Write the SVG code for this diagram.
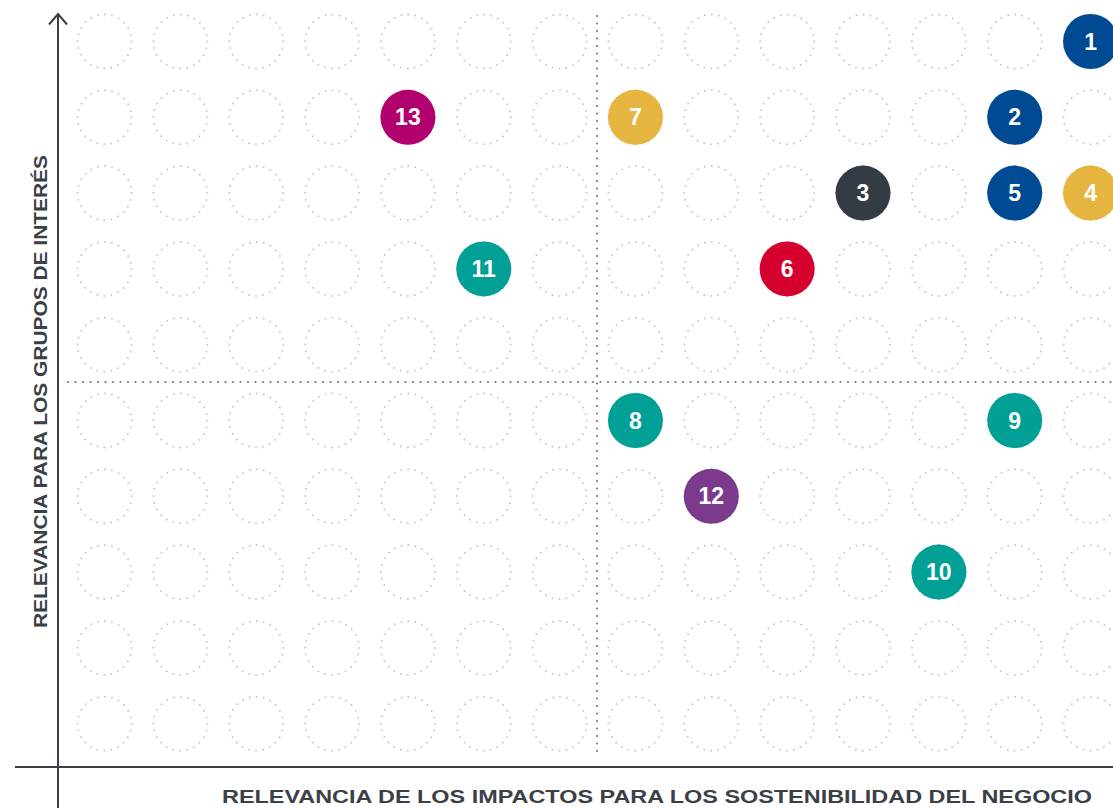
<svg xmlns="http://www.w3.org/2000/svg" xmlns:xlink="http://www.w3.org/1999/xlink" width="1113" height="808" viewBox="0 0 1113 808">
<style>
.bg{fill:none;stroke:#c3c7da;stroke-width:2;stroke-linecap:round;stroke-dasharray:0 7.07}
.div{fill:none;stroke:#737986;stroke-width:2.2;stroke-linecap:round;stroke-dasharray:0 7.5}
.axis{fill:none;stroke:#3a3f48;stroke-width:2}
.lbl{font-family:"Liberation Sans",Arial,sans-serif;font-weight:bold;font-size:18px;fill:#3a3f48}
.num{font-family:"Liberation Sans",Arial,sans-serif;font-weight:bold;font-size:23px;fill:#ffffff;text-anchor:middle}
.blue{fill:#004a93}.gold{fill:#e6b540}.dark{fill:#343b45}.red{fill:#d6002f}.teal{fill:#00a096}.purple{fill:#7c3a8c}.magenta{fill:#b1006d}
</style>
<defs>
<circle id="c" r="27" class="bg"/>
<g id="row">
<use xlink:href="#c" x="104.5"/><use xlink:href="#c" x="180.35"/><use xlink:href="#c" x="256.2"/><use xlink:href="#c" x="332.05"/><use xlink:href="#c" x="407.9"/><use xlink:href="#c" x="483.75"/><use xlink:href="#c" x="559.6"/><use xlink:href="#c" x="635.45"/><use xlink:href="#c" x="711.3"/><use xlink:href="#c" x="787.15"/><use xlink:href="#c" x="863"/><use xlink:href="#c" x="938.85"/><use xlink:href="#c" x="1014.7"/><use xlink:href="#c" x="1090.55"/>
</g>
</defs>
<rect width="1113" height="808" fill="#ffffff"/>
<g id="grid">
<use xlink:href="#row" y="41.5"/><use xlink:href="#row" y="117.3"/><use xlink:href="#row" y="193.1"/><use xlink:href="#row" y="268.9"/><use xlink:href="#row" y="344.7"/><use xlink:href="#row" y="420.5"/><use xlink:href="#row" y="496.3"/><use xlink:href="#row" y="572.1"/><use xlink:href="#row" y="647.9"/><use xlink:href="#row" y="723.7"/>
</g>
<g id="dividers">
<line class="div" x1="597" y1="16" x2="597" y2="752"/>
<line class="div" x1="68" y1="382" x2="1113" y2="382"/>
</g>
<g id="axes">
<line class="axis" x1="58" y1="14" x2="58" y2="808"/>
<polyline class="axis" points="49,24.5 58,14 67,24.5"/>
<line class="axis" x1="15" y1="767" x2="1113" y2="767"/>
<text class="lbl" x="222" y="803" textLength="870" lengthAdjust="spacingAndGlyphs">RELEVANCIA DE LOS IMPACTOS PARA LOS SOSTENIBILIDAD DEL NEGOCIO</text>
<text class="lbl" transform="translate(47,628) rotate(-90)" textLength="473" lengthAdjust="spacingAndGlyphs">RELEVANCIA PARA LOS GRUPOS DE INTERÉS</text>
</g>
<g id="n1"><circle class="blue" cx="1090.55" cy="41.5" r="27.5"/><text class="num" x="1090.55" y="49.5">1</text></g>
<g id="n13"><circle class="magenta" cx="407.9" cy="117.3" r="27.5"/><text class="num" x="407.9" y="125.3">13</text></g>
<g id="n7"><circle class="gold" cx="635.45" cy="117.3" r="27.5"/><text class="num" x="635.45" y="125.3">7</text></g>
<g id="n2"><circle class="blue" cx="1014.7" cy="117.3" r="27.5"/><text class="num" x="1014.7" y="125.3">2</text></g>
<g id="n3"><circle class="dark" cx="863" cy="193.1" r="27.5"/><text class="num" x="863" y="201.1">3</text></g>
<g id="n5"><circle class="blue" cx="1014.7" cy="193.1" r="27.5"/><text class="num" x="1014.7" y="201.1">5</text></g>
<g id="n4"><circle class="gold" cx="1090.55" cy="193.1" r="27.5"/><text class="num" x="1090.55" y="201.1">4</text></g>
<g id="n11"><circle class="teal" cx="483.75" cy="268.9" r="27.5"/><text class="num" x="483.75" y="276.9">11</text></g>
<g id="n6"><circle class="red" cx="787.15" cy="268.9" r="27.5"/><text class="num" x="787.15" y="276.9">6</text></g>
<g id="n8"><circle class="teal" cx="635.45" cy="420.5" r="27.5"/><text class="num" x="635.45" y="428.5">8</text></g>
<g id="n9"><circle class="teal" cx="1014.7" cy="420.5" r="27.5"/><text class="num" x="1014.7" y="428.5">9</text></g>
<g id="n12"><circle class="purple" cx="711.3" cy="496.3" r="27.5"/><text class="num" x="711.3" y="504.3">12</text></g>
<g id="n10"><circle class="teal" cx="938.85" cy="572.1" r="27.5"/><text class="num" x="938.85" y="580.1">10</text></g>
</svg>
